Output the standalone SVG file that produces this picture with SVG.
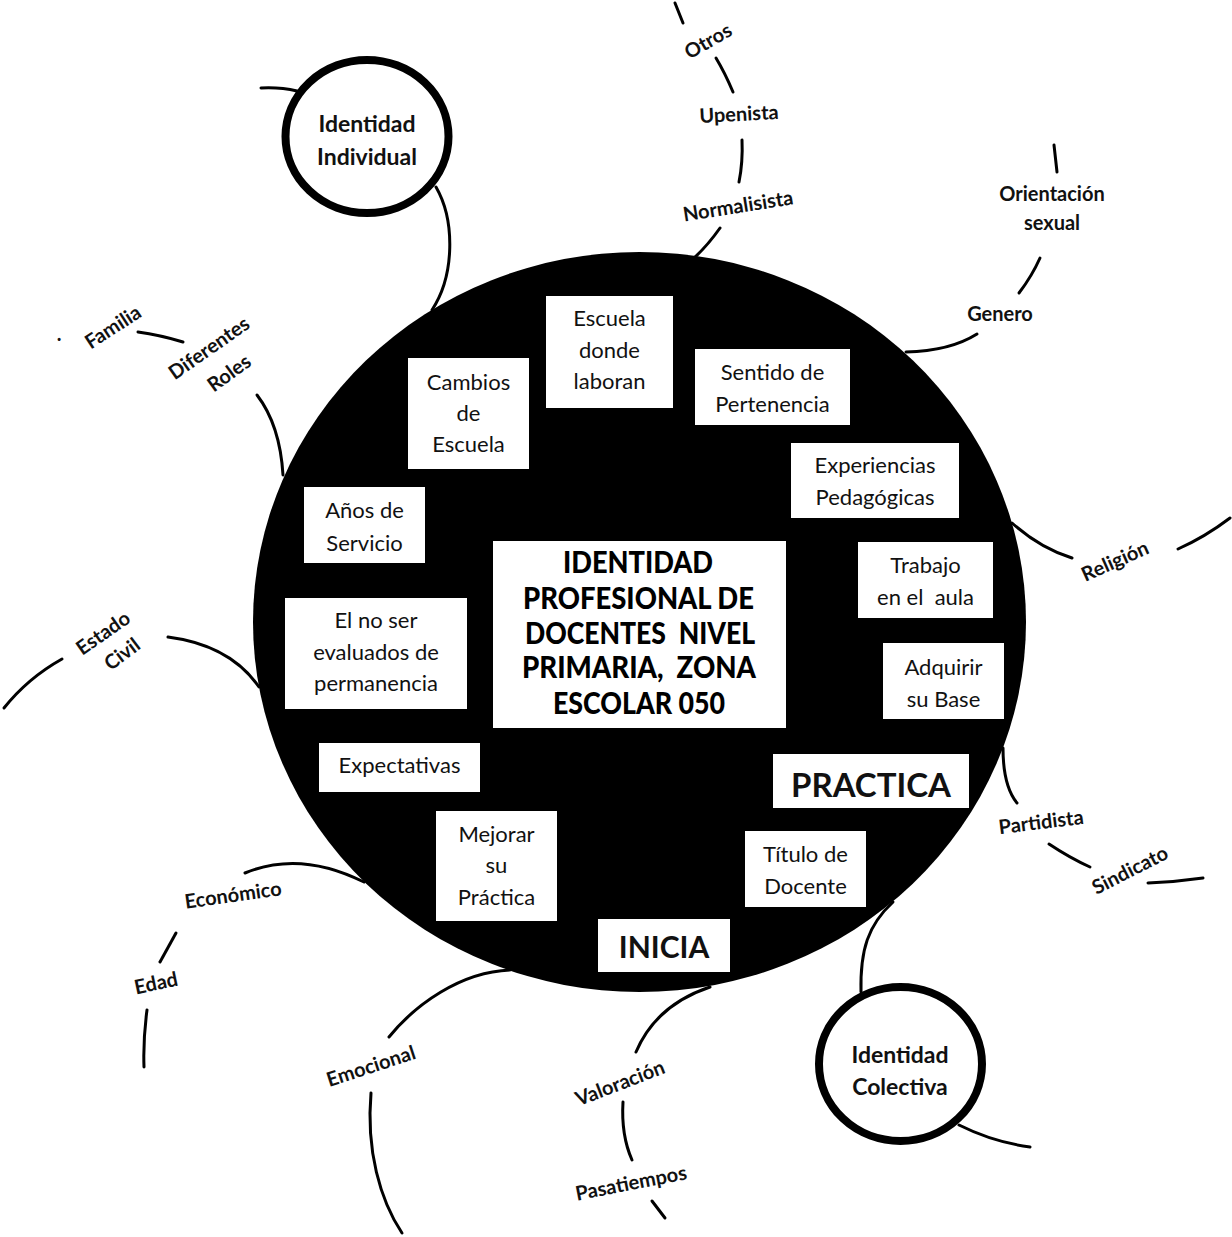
<svg xmlns="http://www.w3.org/2000/svg" width="1232" height="1237" viewBox="0 0 1232 1237">
<style>
.arc{fill:none;stroke:#000;stroke-width:3;stroke-linecap:round}
.box{fill:#fff;stroke:none}
.bt{font-family:Lato,"Open Sans","Liberation Sans",sans-serif;font-size:22px;fill:#111;text-anchor:middle}
.lab{font-family:Lato,"Open Sans","Liberation Sans",sans-serif;font-size:20px;font-weight:bold;fill:#111;text-anchor:middle}
.idt{font-family:Lato,"Open Sans","Liberation Sans",sans-serif;font-size:23px;font-weight:bold;fill:#111;text-anchor:middle}
.big{font-family:Lato,"Open Sans","Liberation Sans",sans-serif;font-weight:bold;fill:#111;text-anchor:middle}
.title{font-family:Lato,"Open Sans","Liberation Sans",sans-serif;font-size:30px;font-weight:900;fill:#000;text-anchor:middle}
.ring{fill:#fff;stroke:#000;stroke-width:8}
.pre{white-space:pre}
</style>
<rect width="1232" height="1237" fill="#fff"/>
<g id="connectors">
<path class="arc" d="M261,88 Q280,87 297,91"/>
<path class="arc" d="M436,187 C455,220 455,275 432,310"/>
<path class="arc" d="M720,228 Q708,245 695,257"/>
<path class="arc" d="M742,140 Q743,162 739,182"/>
<path class="arc" d="M716,58 Q725,73 733,92"/>
<path class="arc" d="M675,3 L683,23"/>
<path class="arc" d="M1054,145 L1057,172"/>
<path class="arc" d="M1040,258 Q1032,276 1019,293"/>
<path class="arc" d="M977,334 Q950,351 906,352"/>
<path class="arc" d="M1012,523 Q1040,548 1072,558"/>
<path class="arc" d="M1178,549 Q1205,537 1230,518"/>
<path class="arc" d="M1003,748 C1003,775 1008,792 1017,803"/>
<path class="arc" d="M1049,844 Q1070,858 1090,867"/>
<path class="arc" d="M1148,883 Q1175,882 1203,878"/>
<path class="arc" d="M861,992 C860,950 868,925 893,902"/>
<path class="arc" d="M959,1125 Q993,1142 1030,1147"/>
<path class="arc" d="M710,987 Q656,1005 636,1052"/>
<path class="arc" d="M623,1102 Q621,1135 632,1160"/>
<path class="arc" d="M652,1201 L665,1218"/>
<path class="arc" d="M389,1037 C415,1005 460,972 510,970"/>
<path class="arc" d="M371,1093 C366,1150 380,1200 402,1233"/>
<path class="arc" d="M245,873 Q300,850 364,882"/>
<path class="arc" d="M176,933 L160,962"/>
<path class="arc" d="M147,1010 Q143,1040 144,1067"/>
<path class="arc" d="M62,659 Q28,678 4,708"/>
<path class="arc" d="M168,637 Q230,645 259,687"/>
<path class="arc" d="M257,395 Q280,425 283,475"/>
<path class="arc" d="M138,332 Q160,335 183,342"/>
</g>
<g id="main-circle">
<ellipse cx="639.5" cy="622" rx="386.5" ry="370" fill="#000"/>
</g>
<g id="title">
<rect class="box" x="493" y="541" width="293" height="187"/>
<text class="title" x="638" y="573" textLength="150" lengthAdjust="spacingAndGlyphs">IDENTIDAD</text>
<text class="title" x="638.5" y="609" textLength="231" lengthAdjust="spacingAndGlyphs">PROFESIONAL DE</text>
<text class="title pre" x="640" y="644" textLength="230" lengthAdjust="spacingAndGlyphs">DOCENTES  NIVEL</text>
<text class="title pre" x="639" y="678" textLength="234" lengthAdjust="spacingAndGlyphs">PRIMARIA,  ZONA</text>
<text class="title" x="639" y="714" textLength="172" lengthAdjust="spacingAndGlyphs">ESCOLAR 050</text>
</g>
<g id="escuela-donde-laboran">
<rect class="box" x="546" y="296" width="127" height="112"/>
<text class="bt" x="609.5" y="326">Escuela</text>
<text class="bt" x="609.5" y="358">donde</text>
<text class="bt" x="609.5" y="389">laboran</text>
</g>
<g id="cambios-de-escuela">
<rect class="box" x="408" y="358" width="121" height="111"/>
<text class="bt" x="468.5" y="390">Cambios</text>
<text class="bt" x="468.5" y="421">de</text>
<text class="bt" x="468.5" y="452">Escuela</text>
</g>
<g id="sentido-de-pertenencia">
<rect class="box" x="695" y="349" width="155" height="76"/>
<text class="bt" x="772.5" y="380">Sentido de</text>
<text class="bt" x="772.5" y="412">Pertenencia</text>
</g>
<g id="experiencias-pedagogicas">
<rect class="box" x="791" y="443" width="168" height="75"/>
<text class="bt" x="875" y="473">Experiencias</text>
<text class="bt" x="875" y="505">Pedagógicas</text>
</g>
<g id="trabajo-en-el-aula">
<rect class="box" x="858" y="542" width="135" height="76"/>
<text class="bt" x="925.5" y="573">Trabajo</text>
<text class="bt pre" x="925.5" y="605">en el  aula</text>
</g>
<g id="adquirir-su-base">
<rect class="box" x="883" y="643" width="121" height="76"/>
<text class="bt" x="943.5" y="675">Adquirir</text>
<text class="bt" x="943.5" y="707">su Base</text>
</g>
<g id="practica">
<rect class="box" x="773" y="754" width="196" height="54"/>
<text class="big" x="871" y="797" font-size="33">PRACTICA</text>
</g>
<g id="anos-de-servicio">
<rect class="box" x="304" y="487" width="121" height="76"/>
<text class="bt" x="364.5" y="518">Años de</text>
<text class="bt" x="364.5" y="551">Servicio</text>
</g>
<g id="no-ser-evaluados">
<rect class="box" x="285" y="598" width="182" height="111"/>
<text class="bt" x="376" y="628">El no ser</text>
<text class="bt" x="376" y="660">evaluados de</text>
<text class="bt" x="376" y="691">permanencia</text>
</g>
<g id="expectativas">
<rect class="box" x="319" y="743" width="161" height="49"/>
<text class="bt" x="399.5" y="773">Expectativas</text>
</g>
<g id="mejorar-su-practica">
<rect class="box" x="436" y="811" width="121" height="110"/>
<text class="bt" x="496.5" y="842">Mejorar</text>
<text class="bt" x="496.5" y="873">su</text>
<text class="bt" x="496.5" y="905">Práctica</text>
</g>
<g id="titulo-de-docente">
<rect class="box" x="745" y="831" width="121" height="76"/>
<text class="bt" x="805.5" y="862">Título de</text>
<text class="bt" x="805.5" y="894">Docente</text>
</g>
<g id="inicia">
<rect class="box" x="598" y="919" width="132" height="53"/>
<text class="big" x="664" y="958" font-size="30">INICIA</text>
</g>
<g id="identidad-individual">
<ellipse class="ring" cx="367" cy="136.5" rx="81.5" ry="76.5"/>
<text class="idt" x="367" y="132">Identidad</text>
<text class="idt" x="367" y="165">Individual</text>
</g>
<g id="identidad-colectiva">
<ellipse class="ring" cx="900.5" cy="1064" rx="81.5" ry="77"/>
<text class="idt" x="900" y="1063">Identidad</text>
<text class="idt" x="900" y="1095">Colectiva</text>
</g>
<g id="otros"><text class="lab" transform="translate(708,41) rotate(-30)" y="7">Otros</text></g>
<g id="upenista"><text class="lab" transform="translate(739,114) rotate(-3)" y="7">Upenista</text></g>
<g id="normalisista"><text class="lab" transform="translate(738,206) rotate(-9)" y="7">Normalisista</text></g>
<g id="orientacion-sexual">
<text class="lab" x="1052" y="201">Orientación</text>
<text class="lab" x="1052" y="230">sexual</text>
</g>
<g id="genero"><text class="lab" x="1000" y="321">Genero</text></g>
<g id="religion"><text class="lab" transform="translate(1115,561) rotate(-24)" y="7">Religión</text></g>
<g id="partidista"><text class="lab" transform="translate(1041,822) rotate(-7)" y="7">Partidista</text></g>
<g id="sindicato"><text class="lab" transform="translate(1130,870) rotate(-27)" y="7">Sindicato</text></g>
<g id="familia"><text class="lab" transform="translate(113,327) rotate(-33)" y="7">Familia</text></g>
<g id="dot"><text class="lab" x="59" y="341">.</text></g>
<g id="diferentes-roles">
<text class="lab" transform="translate(209,348) rotate(-35)" y="7">Diferentes</text>
<text class="lab" transform="translate(229,373) rotate(-36)" y="7">Roles</text>
</g>
<g id="estado-civil">
<text class="lab" transform="translate(103,633) rotate(-35)" y="7">Estado</text>
<text class="lab" transform="translate(122,654) rotate(-37)" y="7">Civil</text>
</g>
<g id="economico"><text class="lab" transform="translate(233,895) rotate(-8)" y="7">Económico</text></g>
<g id="edad"><text class="lab" transform="translate(156,983) rotate(-12)" y="7">Edad</text></g>
<g id="emocional"><text class="lab" transform="translate(371,1066) rotate(-18)" y="7">Emocional</text></g>
<g id="valoracion"><text class="lab" transform="translate(620,1083) rotate(-21)" y="7">Valoración</text></g>
<g id="pasatiempos"><text class="lab" transform="translate(631,1183) rotate(-11)" y="7">Pasatiempos</text></g>
</svg>
